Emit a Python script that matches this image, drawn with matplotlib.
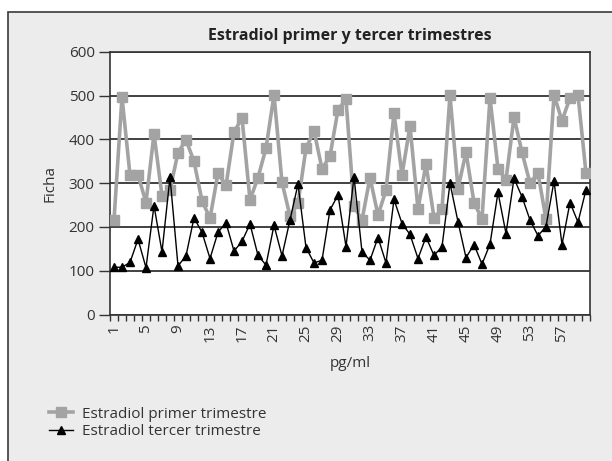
import matplotlib.pyplot as plt
from matplotlib.patches import Rectangle
import numpy as np

# Datos
fichas = list(range(1, 61))

primer_trimestre = [
    216, 497, 319, 319, 256, 413, 271, 285, 370, 399,
    350, 260, 220, 323, 295, 417, 449, 262, 313, 380,
    502, 302, 225, 254, 380, 420, 333, 362, 468, 492,
    247, 216, 313, 227, 284, 460, 319, 431, 241, 344,
    221, 241, 502, 288, 371, 256, 218, 495, 333, 308,
    451, 371, 300, 323, 218, 502, 443, 495, 502, 323,
]

tercer_trimestre = [
    108, 108, 119, 172, 107, 249, 143, 314, 111, 134,
    221, 188, 128, 188, 210, 145, 167, 207, 135, 113,
    204, 134, 216, 298, 153, 118, 124, 239, 273, 155,
    315, 143, 124, 176, 118, 263, 208, 183, 128, 177,
    135, 155, 300, 212, 130, 160, 115, 161, 279, 185,
    311, 269, 216, 180, 201, 305, 160, 256, 211, 285,
]

etiquetas_x = [str(i) for i in range(1, 61, 4)]

plt.rcParams['font.family'] = ['Open Sans', 'DejaVu Sans']

fig = plt.figure(figsize=(6.12, 4.61), dpi=100)
fig.patch.set_facecolor('white')

# Marco gris del grafico
fondo = Rectangle((8 / 612, -0.1), 1.2, (461 - 12) / 461 + 0.1,
                  transform=fig.transFigure, facecolor='#ececec',
                  edgecolor='#3a3a3a', linewidth=1.2, zorder=-10)
fig.patches.append(fondo)

ax = fig.add_axes([110 / 612, 146.5 / 461, 480 / 612, 262.5 / 461])
ax.set_facecolor('white')

ax.plot(fichas, primer_trimestre, color='#a3a3a3', linewidth=2.6,
        marker='s', markersize=7.5, markeredgecolor='#a3a3a3',
        label='Estradiol primer trimestre', zorder=3)
ax.plot(fichas, tercer_trimestre, color='black', linewidth=1.0,
        marker='^', markersize=6, label='Estradiol tercer trimestre',
        zorder=4)

ax.set_xlim(0.5, 60.5)
ax.set_ylim(0, 600)

ax.set_yticks(range(0, 601, 100))
ax.grid(axis='y', color='#333333', linewidth=1.3)
ax.set_axisbelow(True)

ax.set_xticks(range(1, 61, 4))
ax.set_xticklabels(etiquetas_x, rotation=90)
ax.set_xticks(np.arange(0.5, 61, 1), minor=True)
ax.tick_params(axis='x', which='major', length=0, pad=7, labelsize=11,
               colors='#333333')
ax.tick_params(axis='x', which='minor', length=4, width=1, color='#333333')
ax.tick_params(axis='y', length=8, width=1, color='#333333', labelsize=11,
               labelcolor='#333333', pad=3)

for lado in ax.spines.values():
    lado.set_color('#333333')
    lado.set_linewidth(1.2)

ax.set_title('Estradiol primer y tercer trimestres', fontsize=11.5,
             fontweight='bold', color='#222222', pad=9)
ax.set_ylabel('Ficha', fontsize=11, color='#333333', labelpad=8)
ax.set_xlabel('pg/ml', fontsize=11, color='#333333', labelpad=10)

fig.legend(loc='upper left', bbox_to_anchor=(35 / 612, 1 - 393 / 461),
           frameon=False, fontsize=11, handlelength=1.6,
           handletextpad=0.6, labelspacing=0.15, labelcolor='#333333')

fig.savefig('out.png', dpi=100)
